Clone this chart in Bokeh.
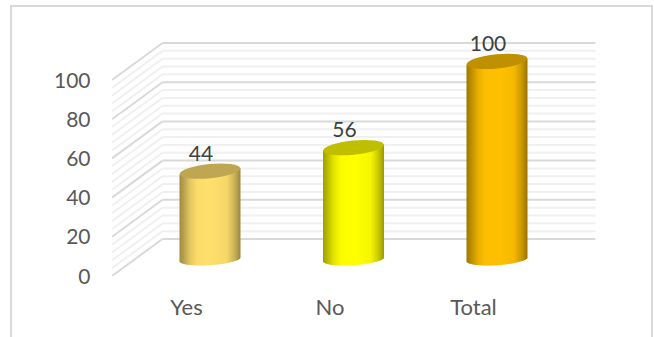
import math

from bokeh.core.properties import value
from bokeh.embed import file_html
from bokeh.models import FixedTicker, Range1d
from bokeh.plotting import figure
from bokeh.resources import INLINE

# Chart data
categories = ["Yes", "No", "Total"]
values = [44, 56, 100]
base_colors = ["#FFDF6C", "#FFFF00", "#FFC000"]
y_ticks = [0, 20, 40, 60, 80, 100]
grid_step = 4

# Page layout, in pixels
WIDTH, HEIGHT = 654, 337
FRAME_LEFT, FRAME_RIGHT, FRAME_TOP, FRAME_BOTTOM = 111, 600, 30, 276
PX_PER_CAT = 143.5
PX_PER_UNIT = 1.96
CAT_ONE_PX = 186.0
ZERO_PX = 275.5

# Oblique projection of the chart box
FRONT_LEFT_PX = 111.5
DEPTH_X_PX = 50.5
DEPTH_Y_PX = 37.0
BACK_RIGHT_PX = 595.0

# Cylinder geometry
CYL_SHIFT_X = 23.5
CYL_RADIUS = 30.5
CAP_HEIGHT = 14.2
CAP_TILT = 0.1
BASE_TILT = 0.067
BASE_RY = 6.0
BASE_LIFT = 8.6
TOP_LIFT = 9.5

# Horizontal shading across a cylinder: (position, brightness)
SHADE = [(0.0, 0.62), (0.08, 0.74), (0.18, 0.9), (0.3, 0.99), (0.55, 1.0),
         (0.78, 0.96), (0.9, 0.8), (0.97, 0.66), (1.0, 0.6)]
CAP_SHADE = 0.75


def x_of(px):
    return 1 + (px - CAT_ONE_PX) / PX_PER_CAT


def shade_at(t):
    for (t0, v0), (t1, v1) in zip(SHADE, SHADE[1:]):
        if t <= t1:
            return v0 + (v1 - v0) * (t - t0) / (t1 - t0)
    return SHADE[-1][1]


def scaled(hex_color, k):
    rgb = [int(hex_color[i:i + 2], 16) for i in (1, 3, 5)]
    return "#%02x%02x%02x" % tuple(round(c * k) for c in rgb)


p = figure(
    width=WIDTH, height=HEIGHT, output_backend="svg", toolbar_location=None,
    x_range=Range1d(x_of(FRAME_LEFT), x_of(FRAME_RIGHT)),
    y_range=Range1d((ZERO_PX - FRAME_BOTTOM) / PX_PER_UNIT,
                    (ZERO_PX - FRAME_TOP) / PX_PER_UNIT),
    min_border_left=FRAME_LEFT, min_border_right=WIDTH - FRAME_RIGHT,
    min_border_top=FRAME_TOP, min_border_bottom=HEIGHT - FRAME_BOTTOM,
)
p.outline_line_color = None
p.grid.visible = False
p.background_fill_color = "white"
p.border_fill_color = "white"

# Chart area border, open at the foot of the page
p.stylesheets = [
    ":host::after { content: ''; position: absolute; left: 10px; top: 5px;"
    " width: 643px; height: 332px; box-sizing: border-box;"
    " border: 2px solid #D9D9D9; border-bottom: none; pointer-events: none; }"
]

# Axes
p.yaxis.ticker = FixedTicker(ticks=y_ticks)
p.yaxis.axis_line_color = None
p.yaxis.major_tick_line_color = None
p.yaxis.minor_tick_line_color = None
p.yaxis.major_label_standoff = 15
p.yaxis.major_label_text_font = "Lato"
p.yaxis.major_label_text_font_size = "21px"
p.yaxis.major_label_text_color = "#595959"

p.xaxis.ticker = FixedTicker(ticks=[1, 2, 3])
p.xaxis.major_label_overrides = {i + 1: c for i, c in enumerate(categories)}
p.xaxis.axis_line_color = None
p.xaxis.major_tick_line_color = None
p.xaxis.minor_tick_line_color = None
p.xaxis.major_label_standoff = 10
p.xaxis.major_label_text_font = "Lato"
p.xaxis.major_label_text_font_size = "22px"
p.xaxis.major_label_text_color = "#595959"

# Side wall and back wall gridlines, minor ones underneath
depth_units = DEPTH_Y_PX / PX_PER_UNIT
for major in (False, True):
    levels = [v for v in range(0, 101, grid_step) if (v % 20 == 0) == major]
    color = "#D9D9D9" if major else "#F0F0F0"
    p.segment(x0=[x_of(FRONT_LEFT_PX)] * len(levels), y0=levels,
              x1=[x_of(FRONT_LEFT_PX + DEPTH_X_PX)] * len(levels),
              y1=[v + depth_units for v in levels],
              line_color=color, line_width=2)
    p.segment(x0=[x_of(FRONT_LEFT_PX + DEPTH_X_PX)] * len(levels),
              y0=[v + depth_units for v in levels],
              x1=[x_of(BACK_RIGHT_PX)] * len(levels),
              y1=[v + depth_units for v in levels],
              line_color=color, line_width=2)

# Cylinders: one-pixel shaded strips closed by a tilted cap
for i, (val, base) in enumerate(zip(values, base_colors)):
    cx_px = CAT_ONE_PX + i * PX_PER_CAT + CYL_SHIFT_X
    top_val = val + TOP_LIFT
    left, right, top, bottom, colors = [], [], [], [], []
    steps = int(2 * CYL_RADIUS)
    for s in range(steps):
        dx = -CYL_RADIUS + s + 0.5
        arc = BASE_RY * math.sqrt(max(0.0, 1 - (dx / CYL_RADIUS) ** 2))
        left.append(x_of(cx_px + dx - 0.5))
        right.append(x_of(cx_px + dx + 1.0 if s < steps - 1 else cx_px + dx + 0.5))
        bottom.append(BASE_LIFT + (dx * BASE_TILT - arc) / PX_PER_UNIT)
        top.append(top_val + dx * CAP_TILT / PX_PER_UNIT)
        colors.append(scaled(base, shade_at((s + 0.5) / steps)))
    p.quad(left=left, right=right, top=top, bottom=bottom,
           fill_color=colors, line_color=None)
    p.ellipse(x=[x_of(cx_px)], y=[top_val], width=[2 * CYL_RADIUS],
              height=[CAP_HEIGHT], width_units="screen", height_units="screen",
              angle=[math.atan(CAP_TILT)], fill_color=scaled(base, CAP_SHADE),
              line_color=None)
    p.text(x=[x_of(cx_px - 9)], y=[top_val + 18 / PX_PER_UNIT], text=[str(val)],
           text_font=value("Lato"), text_font_size="21px", text_color="#404040",
           text_align="center", text_baseline="middle")

open("out.html", "w").write(file_html(p, INLINE))
